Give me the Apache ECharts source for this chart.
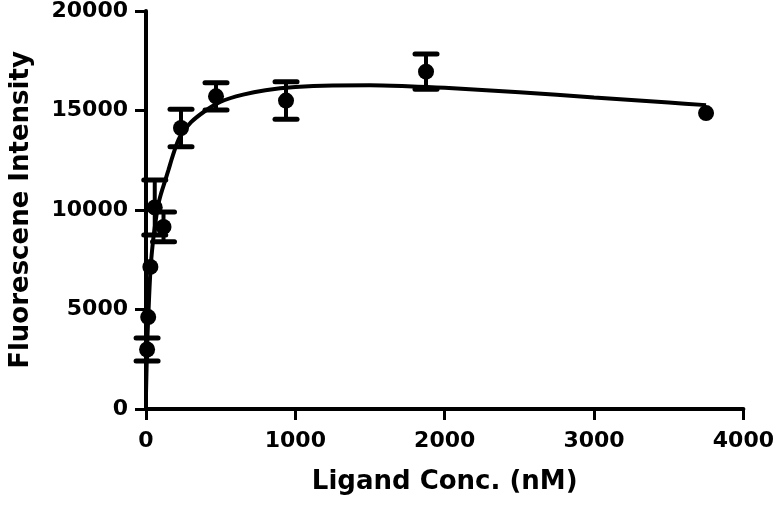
<!DOCTYPE html>
<html>
<head>
<meta charset="utf-8">
<script src="https://cdn.jsdelivr.net/npm/echarts@6/dist/echarts.min.js"></script>
<style>
html,body{margin:0;padding:0;background:#fff;}
#chart{width:777px;height:506px;}
</style>
</head>
<body>
<div id="chart"></div>
<script>
// Measured data: concentration (nM), mean intensity, error (SEM)
var conc = [7.3, 14.6, 29.3, 58.6, 117.2, 234.4, 468.75, 937.5, 1875, 3750];
var intensity = [2990, 4620, 7140, 10130, 9150, 14120, 15710, 15500, 16950, 14870];
var errors = [580, 0, 0, 1380, 750, 940, 690, 945, 885, 0];

// Fitted curve
var curveX = [0, 7, 15, 30, 45, 60, 80, 100, 125, 150, 180, 225, 300, 400, 500, 650, 800, 1000, 1250, 1500, 1750, 2000, 2500, 3000, 3500, 3750];
var curveY = [800, 3000, 4600, 7000, 8300, 9200, 10200, 10800, 11400, 12000, 12750, 13650, 14400, 15000, 15450, 15800, 16020, 16180, 16260, 16270, 16220, 16140, 15920, 15650, 15400, 15270];

var xTicks = [0, 1000, 2000, 3000, 4000];
var yTicks = [0, 5000, 10000, 15000, 20000];

var xAxisTitle = 'Ligand Conc. (nM)';
var yAxisTitle = 'Fluorescene Intensity';

var pointData = conc.map(function (c, i) { return [c, intensity[i]]; });
var errData = conc.map(function (c, i) { return [c, intensity[i], errors[i]]; });
var curveData = curveX.map(function (c, i) { return [c, curveY[i]]; });

var FONT = '"DejaVu Sans", "Liberation Sans", Arial, sans-serif';
function plain(v) { return String(v); }

var chart = echarts.init(document.getElementById('chart'), null, {renderer: 'canvas'});
chart.setOption({
  animation: false,
  backgroundColor: '#ffffff',
  grid: {left: 146, right: 32, top: 11, bottom: 97, containLabel: false},
  xAxis: {
    type: 'value',
    min: xTicks[0], max: xTicks[xTicks.length - 1], interval: 1000,
    name: xAxisTitle,
    nameLocation: 'middle',
    nameGap: 60,
    nameTextStyle: {fontFamily: FONT, fontWeight: 'bold', fontSize: 26, color: '#000'},
    axisLine: {show: true, onZero: false, lineStyle: {color: '#000', width: 4}},
    axisTick: {show: true, length: 11, lineStyle: {color: '#000', width: 3}},
    axisLabel: {fontFamily: FONT, fontWeight: 'bold', fontSize: 22, color: '#000', margin: 21, formatter: plain},
    splitLine: {show: false}
  },
  yAxis: {
    type: 'value',
    min: yTicks[0], max: yTicks[yTicks.length - 1], interval: 5000,
    name: yAxisTitle,
    nameLocation: 'middle',
    nameGap: 112,
    nameTextStyle: {fontFamily: FONT, fontWeight: 'bold', fontSize: 26, color: '#000'},
    axisLine: {show: true, onZero: false, lineStyle: {color: '#000', width: 4}},
    axisTick: {show: true, length: 11, lineStyle: {color: '#000', width: 3}},
    axisLabel: {fontFamily: FONT, fontWeight: 'bold', fontSize: 22, color: '#000', margin: 18, formatter: plain},
    splitLine: {show: false}
  },
  series: [
    {
      type: 'line',
      data: curveData,
      showSymbol: false,
      smooth: 0.3,
      lineStyle: {color: '#000', width: 4},
      z: 2
    },
    {
      type: 'custom',
      data: errData,
      z: 3,
      renderItem: function (params, api) {
        var x = api.value(0), y = api.value(1), e = api.value(2);
        if (!e) return null;
        var top = api.coord([x, y + e]);
        var bot = api.coord([x, y - e]);
        var hw = 11;
        var st = {stroke: '#000', lineWidth: 5, lineCap: 'round'};
        return {
          type: 'group',
          children: [
            {type: 'line', shape: {x1: top[0], y1: top[1], x2: bot[0], y2: bot[1]}, style: {stroke: '#000', lineWidth: 4}},
            {type: 'line', shape: {x1: top[0] - hw, y1: top[1], x2: top[0] + hw, y2: top[1]}, style: st},
            {type: 'line', shape: {x1: bot[0] - hw, y1: bot[1], x2: bot[0] + hw, y2: bot[1]}, style: st}
          ]
        };
      }
    },
    {
      type: 'scatter',
      data: pointData,
      symbol: 'circle',
      symbolSize: 16,
      itemStyle: {color: '#000', opacity: 1},
      z: 4
    }
  ]
});
</script>
</body>
</html>
